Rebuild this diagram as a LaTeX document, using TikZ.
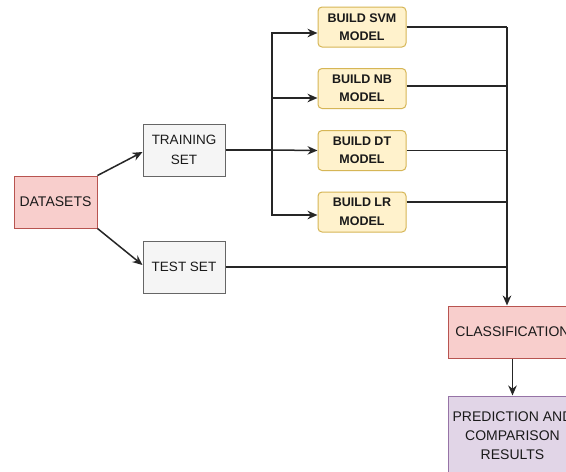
\documentclass[tikz,border=0pt]{standalone}
\usepackage{fontspec}
\setmainfont{Liberation Sans}
\usetikzlibrary{arrows.meta}
\definecolor{redfill}{HTML}{F8CECC}
\definecolor{redline}{HTML}{B85450}
\definecolor{grayfill}{HTML}{F5F5F5}
\definecolor{grayline}{HTML}{666666}
\definecolor{yelfill}{HTML}{FFF2CC}
\definecolor{yelline}{HTML}{D6B656}
\definecolor{purfill}{HTML}{E1D5E7}
\definecolor{purline}{HTML}{9673A6}
\definecolor{txt}{HTML}{1A1A1A}
\tikzset{
  box/.style={draw, line width=1pt, align=center, text=txt, inner sep=0pt,
    font=\fontsize{14}{20}\selectfont},
  redbox/.style={box, fill=redfill, draw=redline},
  graybox/.style={box, fill=grayfill, draw=grayline, font=\fontsize{13.5}{20}\selectfont},
  modelbox/.style={box, fill=yelfill, draw=yelline, rounded corners=4pt,
    minimum width=88pt, minimum height=40pt, font=\bfseries\fontsize{12.5}{18.5}\selectfont},
  purbox/.style={box, fill=purfill, draw=purline, font=\fontsize{14}{19}\selectfont},
  conn/.style={line width=1.5pt, draw=black!85},
  arr/.style={conn, -{Stealth[length=10pt,width=8.5pt]}}
}
\begin{document}
\begin{tikzpicture}[x=1pt,y=-1pt]
\useasboundingbox[fill=white] (0,0) rectangle (566,472);
\begin{scope}
\clip (0,0) rectangle (566,472);
\node[redbox, minimum width=83pt, minimum height=52pt] (data) at (55.5,202) {DATASETS};
\node[graybox, minimum width=82pt, minimum height=52pt] (train) at (184,150) {TRAINING\\SET};
\node[graybox, minimum width=82pt, minimum height=52pt] (test) at (184,267) {TEST SET};
\node[modelbox] (svm) at (362,27) {BUILD SVM\\MODEL};
\node[modelbox] (nb) at (362,88.5) {BUILD NB\\MODEL};
\node[modelbox] (dt) at (362,150.5) {BUILD DT\\MODEL};
\node[modelbox] (lr) at (362,212) {BUILD LR\\MODEL};
\node[redbox, minimum width=129pt, minimum height=52pt] (cls) at (512.5,332) {CLASSIFICATION};
\node[purbox, minimum width=129pt, minimum height=80pt] (pred) at (512.5,436) {PREDICTION AND\\COMPARISON\\RESULTS};

\coordinate (split) at (272,150);
\coordinate (bus) at (507,27);
\coordinate (nbout) at ([yshift=2.5pt]nb.east);
\coordinate (lrout) at ([yshift=10pt]lr.east);

\draw[arr] (data.north east) -- ([yshift=-2pt]train.west);
\draw[arr] (data.south east) -- ([yshift=2pt]test.west);

\draw[conn] (train.east) -- (split);
\draw[arr] (split) -- (dt.west);
\draw[arr] (split) |- ([yshift=-6pt]svm.west);
\draw[arr] (split) |- ([yshift=-9.5pt]nb.west);
\draw[arr] (split) |- ([yshift=-3pt]lr.west);

\draw[conn] (svm.east) -- (bus);
\draw[conn] (nbout) -- (bus |- nbout);
\draw[conn] (dt.east) -- (bus |- dt.east);
\draw[conn] (lrout) -- (bus |- lrout);
\draw[conn] (test.east) -- (bus |- test.east);
\draw[arr] (bus) -- (bus |- cls.north);
\draw[arr] (cls.south) -- (pred.north);
\end{scope}
\end{tikzpicture}
\end{document}
